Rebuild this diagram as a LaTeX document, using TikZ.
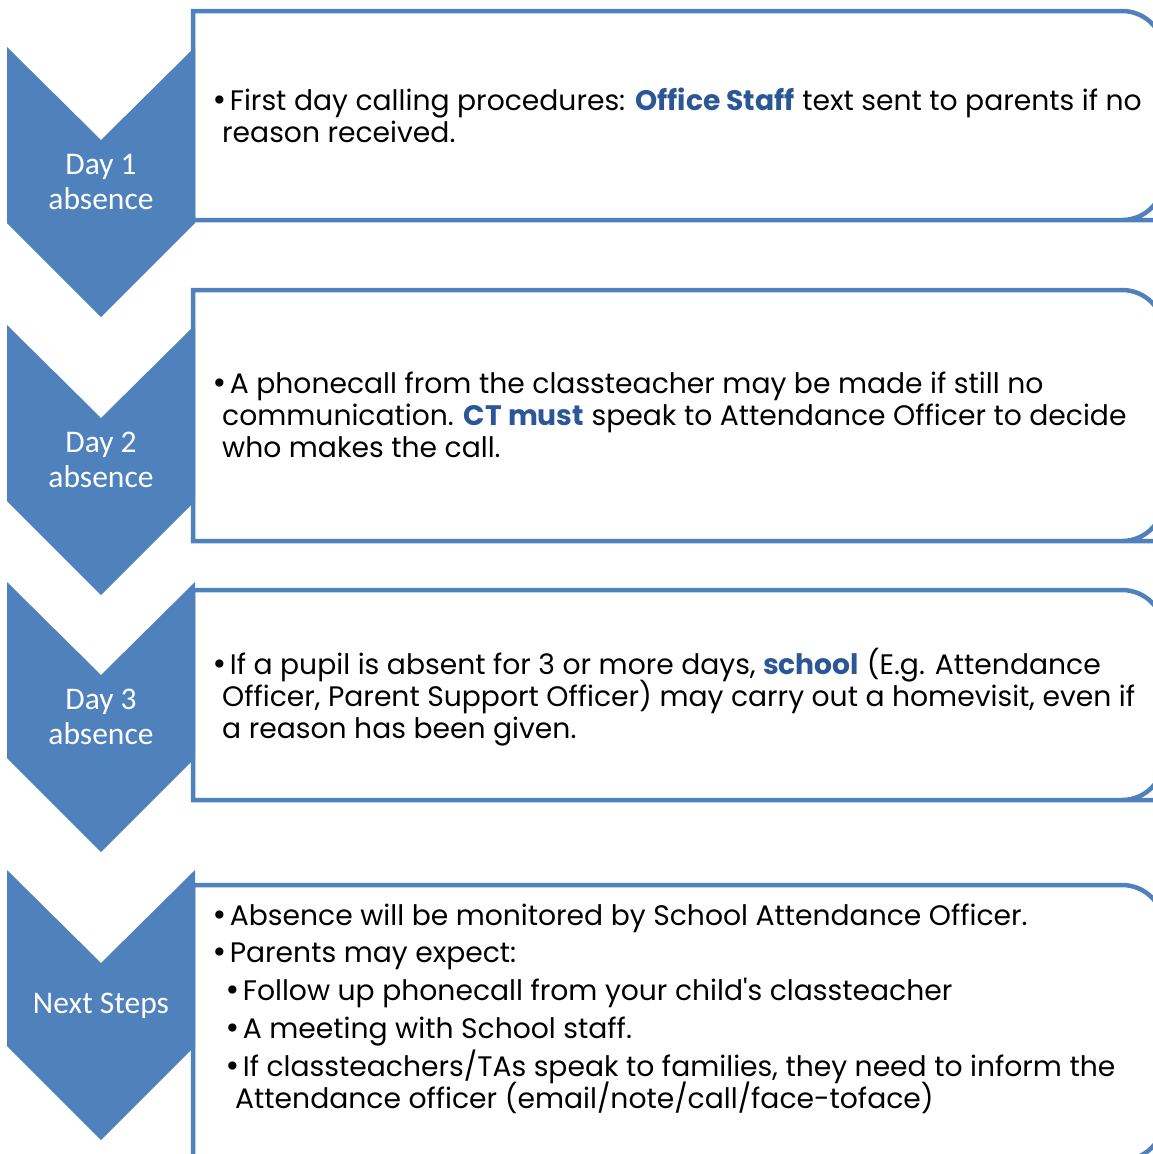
\documentclass[tikz,border=0pt]{standalone}
\usepackage{fontspec}
\newfontfamily\bodyfont{Poppins}
\newfontfamily\labfont{Carlito}
\newfontfamily\bulfont{DejaVu Sans}
\definecolor{chev}{HTML}{4F81BD}
\definecolor{hl}{HTML}{2C5796}
\newcommand\bul{{\bulfont •}\hspace{2pt}}
\tikzset{
  boxline/.style={draw=chev, line width=4.5pt, fill=white},
  chevshape/.style={fill=chev, draw=none},
  lab/.style={text=white, font=\labfont\fontsize{31.5}{35}\selectfont, align=center, inner sep=0pt},
  body/.style={anchor=base west, inner sep=0pt, font=\bodyfont\fontsize{28.2}{32}\selectfont, text=black},
}
\newcommand\stepbox[2]{\draw[boxline] (193,#2) -- (193,#1) -- (1120,#1) [rounded corners=42pt] -- (1164,#1) -- (1164,#2) -- (1120,#2) [sharp corners] -- cycle;}
\newcommand\stepchev[1]{\fill[chevshape] (7,#1) -- (101,#1+93) -- (195,#1) -- (195,#1+176) -- (101,#1+270) -- (7,#1+176) -- cycle;}
\begin{document}
\begin{tikzpicture}[x=1pt,y=-1pt]
\useasboundingbox (0,0) rectangle (1152,1154);
% boxes
\stepbox{11}{220}
\stepbox{290}{541}
\stepbox{590}{800}
\stepbox{885}{1160}
% chevrons
\stepchev{47}
\stepchev{325}
\stepchev{582}
\stepchev{870}
% chevron labels
\node[lab] (c1) at (101,182) {Day 1\\absence};
\node[lab] (c2) at (101,460) {Day 2\\absence};
\node[lab] (c3) at (101,717) {Day 3\\absence};
\node[lab] (c4) at (101,1006) {Next Steps};
% box 1
\node[body] (t1a) at (211,110) {\bul First day calling procedures: {\bfseries\color{hl}Office Staff} text sent to parents if no};
\node[body] (t1b) at (222,142) {reason received.};
% box 2
\node[body] (t2a) at (211,393) {\bul A phonecall from the classteacher may be made if still no};
\node[body] (t2b) at (222,425) {communication. {\bfseries\color{hl}CT must} speak to Attendance Officer to decide};
\node[body] (t2c) at (222,457) {who makes the call.};
% box 3
\node[body] (t3a) at (211,674) {\bul If a pupil is absent for 3 or more days, {\bfseries\color{hl}school} (E.g. Attendance};
\node[body] (t3b) at (222,706) {Officer, Parent Support Officer) may carry out a homevisit, even if};
\node[body] (t3c) at (222,738) {a reason has been given.};
% box 4
\node[body] (t4a) at (211,925) {\bul Absence will be monitored by School Attendance Officer.};
\node[body] (t4b) at (211,962) {\bul Parents may expect:};
\node[body] (t4c) at (224,1000) {\bul Follow up phonecall from your child's classteacher};
\node[body] (t4d) at (224,1038) {\bul A meeting with School staff.};
\node[body] (t4e) at (224,1076) {\bul If classteachers/TAs speak to families, they need to inform the};
\node[body] (t4f) at (235,1108) {Attendance officer (email/note/call/face-toface)};
\end{tikzpicture}
\end{document}
